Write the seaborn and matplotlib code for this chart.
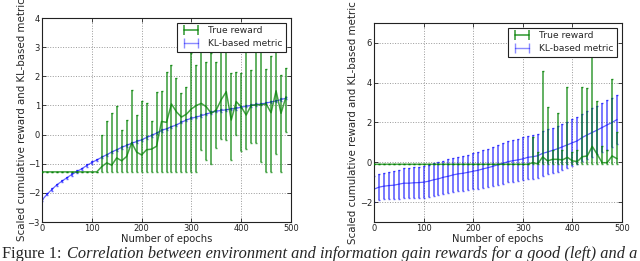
import matplotlib
matplotlib.use("Agg")
import matplotlib.pyplot as plt
from matplotlib.lines import Line2D
import seaborn as sns
import numpy as np

# ---- data ----
epochs = list(range(0, 500, 10))

# left panel ("good" agent)
left_true = [-1.28] * 12 + [
    -1.1, -0.97, -1.05, -0.8, -0.9, -0.75, -0.28, -0.6, -0.7, -0.52,
    -0.5, -0.4, 0.45, 0.42, 1.05, 0.78, 0.6, 0.7, 0.88, 1.0,
    1.07, 0.95, 0.73, 0.85, 1.2, 1.47, 0.5, 1.13, 0.95, 0.67,
    1.0, 1.02, 1.02, 1.05, 0.75, 1.5, 0.73, 1.3]
left_true_hi = [-1.28] * 12 + [
    0.0, 0.45, 0.73, 0.97, 0.15, 0.5, 1.53, 0.68, 1.15, 1.07,
    0.45, 1.45, 1.5, 2.15, 2.38, 1.95, 1.42, 1.62, 2.8, 2.4,
    2.95, 2.5, 2.8, 2.5, 2.9, 3.2, 2.1, 2.15, 2.1, 3.1,
    2.2, 3.2, 3.3, 2.25, 2.7, 3.3, 2.05, 2.3]
left_true_lo = [-1.28] * 12 + [-1.28] * 20 + [
    -0.53, -0.87, -1.0, -0.45, -0.15, -0.18, -0.87, 0.0, -0.55, -0.5,
    -0.3, -0.3, -0.95, -1.28, -1.28, -0.65, -1.28, 0.1]
left_kl = [
    -2.25, -2.05, -1.88, -1.72, -1.6, -1.48, -1.37, -1.27, -1.17, -1.06,
    -0.96, -0.87, -0.78, -0.69, -0.6, -0.52, -0.44, -0.37, -0.3, -0.24,
    -0.18, -0.1, -0.03, 0.05, 0.14, 0.2, 0.27, 0.33, 0.42, 0.5,
    0.56, 0.6, 0.65, 0.7, 0.76, 0.8, 0.83, 0.85, 0.88, 0.9,
    0.94, 0.97, 1.0, 1.03, 1.05, 1.08, 1.12, 1.15, 1.2, 1.25]
left_kl_err = 0.04

# right panel
right_true = [-0.1] * 32 + [
    -0.02, -0.08, 0.27, 0.07, 0.15, 0.15, 0.12, 0.25, 0.07, 0.04,
    0.28, 0.32, 0.8, 0.4, -0.02, -0.02, 0.32, 0.18]
right_true_hi = [-0.1] * 32 + [
    1.27, 0.5, 4.57, 2.77, 0.6, 2.48, 0.6, 3.78, 0.5, 0.6,
    3.78, 3.73, 6.4, 3.1, 0.8, 0.6, 4.2, 1.5]
right_true_lo = [-0.1] * 50
right_kl = [
    -1.35, -1.25, -1.2, -1.17, -1.15, -1.1, -1.05, -1.05, -1.03, -1.02,
    -1.0, -0.95, -0.88, -0.83, -0.75, -0.7, -0.63, -0.58, -0.55, -0.5,
    -0.45, -0.4, -0.33, -0.27, -0.2, -0.12, -0.05, 0.03, 0.08, 0.12,
    0.17, 0.25, 0.28, 0.33, 0.45, 0.52, 0.6, 0.68, 0.78, 0.88,
    0.98, 1.08, 1.25, 1.38, 1.5, 1.62, 1.75, 1.88, 2.0, 2.15]
right_kl_err = [
    0.65, 0.65, 0.66, 0.68, 0.7, 0.72, 0.74, 0.75, 0.77, 0.78,
    0.8, 0.81, 0.82, 0.83, 0.84, 0.85, 0.86, 0.87, 0.88, 0.89,
    0.9, 0.92, 0.94, 0.96, 0.98, 1.0, 1.02, 1.03, 1.05, 1.06,
    1.08, 1.09, 1.1, 1.11, 1.12, 1.13, 1.14, 1.15, 1.16, 1.17,
    1.18, 1.19, 1.2, 1.21, 1.22, 1.22, 1.23, 1.24, 1.25, 1.25]

YLABEL = "Scaled cumulative reward and KL-based metric"
XLABEL = "Number of epochs"
CAPTION_A = "Figure 1:"
CAPTION_B = "Correlation between environment and information gain rewards for a good (left) and a"

sns.set_theme(style="whitegrid", rc={
    "axes.edgecolor": "#222222", "axes.linewidth": 0.8,
    "grid.color": "#999999", "grid.linestyle": ":", "grid.linewidth": 0.7,
    "xtick.direction": "in", "ytick.direction": "in",
    "xtick.top": True, "ytick.right": True,
    "xtick.bottom": True, "ytick.left": True,
    "xtick.major.size": 3, "ytick.major.size": 3,
    "xtick.major.width": 0.6, "ytick.major.width": 0.6,
    "xtick.color": "#222222", "ytick.color": "#222222",
})
plt.rcParams["font.family"] = ["DejaVu Sans"]

GREEN = (0.0, 0.5, 0.0)
BLUE = (0.0, 0.0, 1.0)

fig = plt.figure(figsize=(6.4, 2.61), dpi=100)
ax1 = fig.add_axes([42 / 640, 39 / 261, 249 / 640, 204 / 261])
ax2 = fig.add_axes([374 / 640, 39 / 261, 248 / 640, 199 / 261])


def draw(ax, true, lo, hi, kl, kl_err, kl_alpha):
    t = np.array(true)
    yerr = [t - np.array(lo), np.array(hi) - t]
    ax.errorbar(epochs, true, yerr=yerr, color=GREEN, alpha=0.72, lw=1.1,
                elinewidth=1.2, capsize=1, zorder=3)
    ax.errorbar(epochs, kl, yerr=kl_err, color=BLUE, alpha=kl_alpha, lw=0.9,
                elinewidth=1.2, capsize=1, zorder=2)
    handles = [
        Line2D([], [], color=GREEN, alpha=0.75, lw=1.2, marker="|",
               markersize=7, markeredgewidth=1.2),
        Line2D([], [], color=BLUE, alpha=0.45, lw=1.0, marker="|",
               markersize=7, markeredgewidth=1.0),
    ]
    ax.set_xlim(0, 500)
    ax.set_xticks(range(0, 501, 100))
    ax.tick_params(labelsize=6, pad=1.5)
    ax.set_xlabel(XLABEL, fontsize=7.2, labelpad=1)
    ax.set_ylabel(YLABEL, fontsize=7.4, labelpad=2)
    leg = ax.legend(handles, ["True reward", "KL-based metric"],
                    loc="upper right", fontsize=6.6, fancybox=False,
                    framealpha=1, edgecolor="#222222", borderpad=0.4,
                    handlelength=2.2, labelspacing=0.45, numpoints=2)
    leg.get_frame().set_linewidth(0.8)
    for sp in ax.spines.values():
        sp.set_visible(True)


draw(ax1, left_true, left_true_lo, left_true_hi, left_kl, left_kl_err, 0.6)
ax1.set_ylim(-3, 4)
ax1.set_yticks(range(-3, 5))

draw(ax2, right_true, right_true_lo, right_true_hi, right_kl, right_kl_err, 0.62)
ax2.set_ylim(-3, 7)
ax2.set_yticks([-2, 0, 2, 4, 6])

ax1.yaxis.set_label_coords(-0.06, 0.5)
ax2.yaxis.set_label_coords(-0.065, 0.5)

fig.text(0.003, 3 / 261, CAPTION_A, family="Liberation Serif", fontsize=11.8, va="baseline")
fig.text(67 / 640, 3 / 261, CAPTION_B, family="Liberation Serif", style="italic",
         fontsize=11.8, va="baseline")

fig.savefig("out.png", dpi=100)
